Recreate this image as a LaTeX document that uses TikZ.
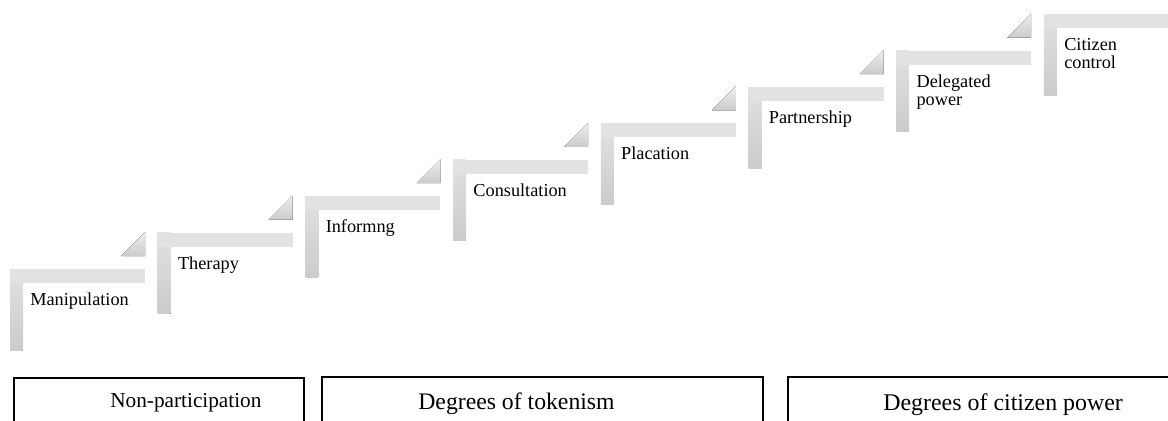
\documentclass[tikz,border=0pt]{standalone}
\usepackage{fontspec}
\setmainfont{Liberation Serif}

\definecolor{steplight}{HTML}{E2E2E2}
\definecolor{stepdark}{HTML}{CBCBCB}

\tikzset{
  stepbar/.style={fill=steplight},
  steppost/.style={top color=steplight, bottom color=stepdark},
  stepcorner/.style={top color=steplight!60!white, bottom color=stepdark},
  steplabel/.style={anchor=north west, inner sep=0pt, align=left,
                    font=\fontsize{10.4}{10.6}\selectfont},
  groupbox/.style={draw=black, line width=0.6pt},
  grouplabel/.style={anchor=base west, inner sep=0pt}
}

\begin{document}
\begin{tikzpicture}[x=0.02cm, y=-0.02cm]
      \useasboundingbox (0,0) rectangle (1168,420);
      \clip (0,0) rectangle (1168,420);

      % Draw the steps of the ladder from bottom left to top right
      \foreach \i/\name/\txt in {0/manip/Manipulation, 1/therapy/Therapy,
          2/inform/Informng, 3/consult/Consultation, 4/placate/Placation,
          5/partner/Partnership, 6/delegate/{Delegated\\power},
          7/control/{Citizen\\control}} {
          \pgfmathsetmacro{\sx}{10+147.7*\i}
          \pgfmathsetmacro{\sy}{269-36.4*\i}
          \fill[steppost] (\sx,\sy) rectangle (\sx+13,\sy+81);
          \fill[stepbar] (\sx,\sy) rectangle (\sx+135,\sy+14);
          % the top step has no corner piece
          \ifnum\i<7
            \fill[stepcorner] (\sx+111,\sy-13) -- (\sx+135,\sy-13) -- (\sx+135,\sy-37) -- cycle;
          \fi
          \node[steplabel] (\name) at (\sx+20,\sy+23.5) {\txt};
      }

      % Add the three groups below the ladder
      \draw[groupbox] (14,378) rectangle (304,430);
      \draw[groupbox] (322,377) rectangle (763,430);
      \draw[groupbox] (788,377) rectangle (1180,430);

      \node[grouplabel, font=\fontsize{12.1}{14}\selectfont] (nonpart) at (110,407) {Non-participation};
      \node[grouplabel, font=\fontsize{13.5}{16}\selectfont] (token) at (418,409) {Degrees of tokenism};
      \node[grouplabel, font=\fontsize{13.6}{16}\selectfont] (power) at (883,410) {Degrees of citizen power};
\end{tikzpicture}
\end{document}
